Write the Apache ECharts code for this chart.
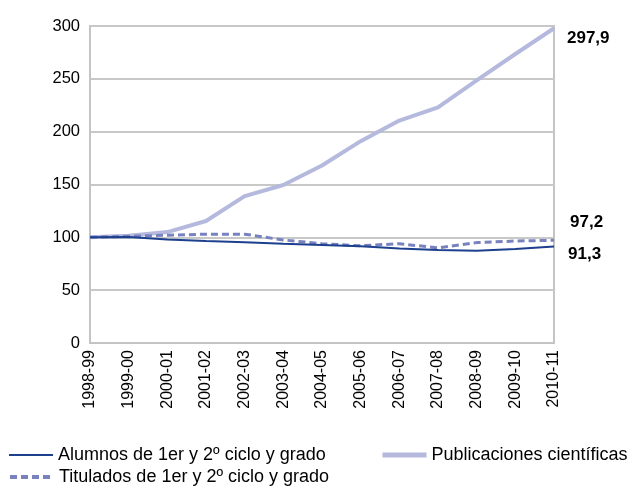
<!DOCTYPE html>
<html lang="es">
<head>
<meta charset="UTF-8">
<title>Alumnos, titulados y publicaciones</title>
<script src="https://cdn.jsdelivr.net/npm/echarts@6/dist/echarts.min.js"></script>
</head>
<body style="margin:0">
<div id="main" style="width:632px;height:486px"></div>
<script type="text/javascript">
  var cursos = ['1998-99', '1999-00', '2000-01', '2001-02', '2002-03', '2003-04', '2004-05',
    '2005-06', '2006-07', '2007-08', '2008-09', '2009-10', '2010-11'];
  var alumnos = [100, 100.3, 98, 96.5, 95.3, 94, 92.8, 91.5, 89.5, 88, 87.4, 89, 91.3];
  var titulados = [100, 101, 102, 103, 103, 97.5, 94, 92, 94, 90, 95, 96.5, 97.2];
  var publicaciones = [100, 101.5, 105, 115.5, 139, 149.5, 168, 191, 210.5, 223, 248.5, 273.5, 297.9];
  var yTicks = [0, 50, 100, 150, 200, 250, 300];

  var nAlumnos = 'Alumnos de 1er y 2º ciclo y grado';
  var nTitulados = 'Titulados de 1er y 2º ciclo y grado';
  var nPublic = 'Publicaciones científicas';

  function coma(p) {
    return String(p.value).replace('.', ',');
  }

  // una leyenda por serie para colocarlas como en el original
  function leyenda(nombre, left, top, linea) {
    return {
      left: left, top: top, data: [nombre],
      itemWidth: 44, itemHeight: 14,
      itemStyle: {opacity: 0},
      lineStyle: linea,
      textStyle: {fontSize: 18, color: '#000'}
    };
  }

  var myChart = echarts.init(document.getElementById('main'));
  var option = {
    animation: false,
    textStyle: {fontFamily: 'Liberation Sans, Arial, sans-serif'},
    grid: {
      left: 90, right: 78, top: 26, bottom: 143,
      show: true, borderColor: '#c4c4c4', borderWidth: 2
    },
    legend: [
      leyenda(nAlumnos, 3, 441, {width: 2}),
      leyenda(nPublic, 375, 441, {width: 5}),
      leyenda(nTitulados, 3, 463, {width: 4, type: [7, 4]})
    ],
    xAxis: {
      type: 'category',
      data: cursos,
      boundaryGap: false,
      axisLine: {lineStyle: {color: '#c4c4c4', width: 2}},
      axisTick: {show: false},
      axisLabel: {rotate: 90, fontSize: 16, color: '#000', margin: 7}
    },
    yAxis: {
      type: 'value',
      min: yTicks[0], max: yTicks[yTicks.length - 1], interval: 50,
      axisLine: {show: true, lineStyle: {color: '#c4c4c4', width: 2}},
      axisTick: {show: false},
      axisLabel: {fontSize: 16.5, color: '#000', margin: 10},
      splitLine: {lineStyle: {color: '#c8c8c8', width: 2}}
    },
    series: [
      {
        name: nPublic, type: 'line', data: publicaciones,
        symbol: 'none', z: 1,
        lineStyle: {color: '#b5b9de', width: 4},
        itemStyle: {color: '#b5b9de'},
        endLabel: {show: true, formatter: coma, fontSize: 17, fontWeight: 'bold', color: '#000', offset: [5, 10]}
      },
      {
        name: nTitulados, type: 'line', data: titulados,
        symbol: 'none', z: 2,
        lineStyle: {color: '#7882be', width: 3, type: [7, 4]},
        itemStyle: {color: '#7882be'},
        endLabel: {show: true, formatter: coma, fontSize: 17, fontWeight: 'bold', color: '#000', offset: [8, -18]}
      },
      {
        name: nAlumnos, type: 'line', data: alumnos,
        symbol: 'none', z: 3,
        lineStyle: {color: '#1c3f8e', width: 2},
        itemStyle: {color: '#1c3f8e'},
        endLabel: {show: true, formatter: coma, fontSize: 17, fontWeight: 'bold', color: '#000', offset: [6, 8]}
      }
    ]
  };
  myChart.setOption(option);
</script>
</body>
</html>
